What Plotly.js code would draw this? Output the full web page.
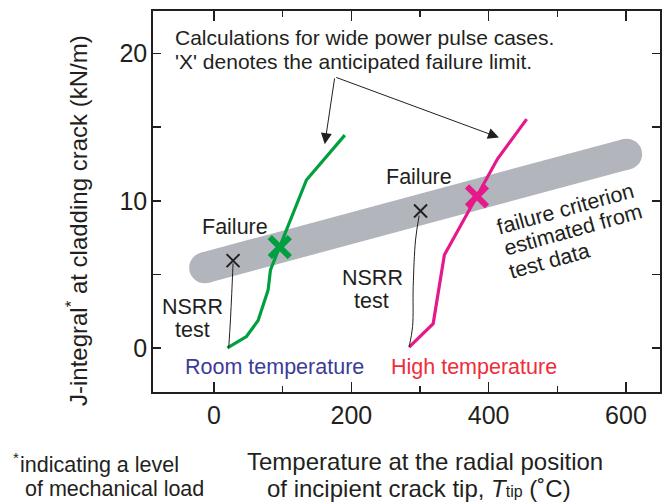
<!DOCTYPE html>
<html><head><meta charset="utf-8">
<script src="https://cdn.plot.ly/plotly-3.0.1.min.js"></script>
<style>html,body{margin:0;padding:0;background:#fff}#chart{width:665px;height:502px}</style>
</head><body><div id="chart"></div>
<script>
// failure criterion band (estimated from test data)
const bandX = [-13.6, 601];
const bandY = [5.45, 13.17];
// calculations: room temperature
const roomX = [19.5, 47.2, 64.2, 78.8, 82.2, 134.6, 190.5];
const roomY = [0, 0.77, 1.86, 3.94, 5.30, 11.41, 14.46];
// calculations: high temperature
const highX = [284.2, 319.2, 335.5, 413, 455.4];
const highY = [0.05, 1.65, 6.31, 12.85, 15.55];
// NSRR test paths
const nsrrRoomX = [21.4, 23.9, 25.8, 27.7];
const nsrrRoomY = [0, 1.9, 3.7, 5.75];
const nsrrHighX = [284.2, 289.2, 290.1, 293.5, 298.8];
const nsrrHighY = [0.05, 1.45, 4.16, 7.33, 9.0];
// failure points
const testFailX = [27.7, 300.8];
const testFailY = [5.93, 9.3];
const calcFailX = [95.8, 383];
const calcFailY = [6.85, 10.3];
// ticks
const xTickVals = [0, 200, 400, 600];
const xTickText = ['0', '200', '400', '600'];
const yTickVals = [0, 5, 10, 15, 20];
const yTickText = ['0', '', '10', '', '20'];

const INK = '#231f20';
const GREEN = '#00a040';
const PINK = '#e6198b';
const GRAY = '#b2b6bc';
const FONT = 'Liberation Sans, Arial, Helvetica, sans-serif';

const traces = [
  {x: bandX, y: bandY, mode: 'lines+markers', line: {color: GRAY, width: 31},
   marker: {color: GRAY, size: 31, symbol: 'circle', line: {width: 0}}, hoverinfo: 'skip'},
  {x: roomX, y: roomY, mode: 'lines', line: {color: GREEN, width: 3.2}},
  {x: highX, y: highY, mode: 'lines', line: {color: PINK, width: 3.2}},
  {x: nsrrRoomX, y: nsrrRoomY, mode: 'lines', line: {color: INK, width: 1, shape: 'spline'}},
  {x: nsrrHighX, y: nsrrHighY, mode: 'lines', line: {color: INK, width: 1, shape: 'spline'}},
  {x: testFailX, y: testFailY, mode: 'markers',
   marker: {symbol: 'x-thin-open', size: 13, color: INK, line: {color: INK, width: 2}}},
  {x: calcFailX, y: calcFailY, mode: 'markers',
   marker: {symbol: 'x-thin-open', size: 20, color: [GREEN, PINK], line: {color: [GREEN, PINK], width: 6}}}
];

function txt(text, x, y, opts) {
  return Object.assign({text: text, x: x, y: y, xref: 'x', yref: 'y', showarrow: false,
    font: {family: FONT, size: 21.5, color: INK}, xanchor: 'center', yanchor: 'middle',
    borderpad: 0, borderwidth: 0}, opts || {});
}
function ptxt(text, x, y, opts) {
  return txt(text, x, y, Object.assign({xref: 'paper', yref: 'paper'}, opts || {}));
}

const BIG = {family: FONT, size: 24, color: INK};
const CALC = {family: FONT, size: 21, color: INK};
const FOOT = {family: FONT, size: 21.5, color: INK};
const annotations = [
  txt('Calculations for wide power pulse cases.', -57.5, 21.10, {xanchor: 'left', font: CALC}),
  txt("'X' denotes the anticipated failure limit.", -57.5, 19.50, {xanchor: 'left', font: CALC}),
  txt('Failure', 30.2, 8.23),
  txt('Failure', 299.1, 11.63),
  txt('NSRR', -31.8, 2.80),
  txt('test', -31.0, 1.22),
  txt('NSRR', 230.1, 4.77),
  txt('test', 229.4, 3.19),
  txt('Room temperature', 88.5, -1.27, {font: {family: FONT, size: 21.5, color: '#3b3c98'}}),
  txt('High temperature', 378.8, -1.27, {font: {family: FONT, size: 21.5, color: '#ee2d3c'}}),
  txt('failure criterion', 512.6, 9.42, {textangle: -15.5}),
  txt('estimated from', 523.3, 8.01, {textangle: -15.5}),
  txt('test data', 489.3, 5.93, {textangle: -15.5}),
  // axis titles
  ptxt('J-integral<sup>*</sup> at cladding crack (kN/m)', -0.1499, 0.4488, {textangle: -90, font: BIG}),
  ptxt('Temperature at the radial position', 0.5365, -0.1824, {font: BIG}),
  ptxt('of incipient crack tip, <i>T</i><span style="font-size:16px">tip</span> (\u02daC)', 0.5247, -0.2533, {font: BIG}),
  // footnote
  ptxt('*', -0.2712, -0.1732, {font: {family: FONT, size: 15, color: INK}}),
  ptxt('indicating a level', -0.2623, -0.1903, {xanchor: 'left', font: FOOT}),
  ptxt('of mechanical load', -0.2525, -0.2546, {xanchor: 'left', font: FOOT}),
  // arrows
  {x: 161.3, y: 13.85, ax: 175.9, ay: 18.42, xref: 'x', yref: 'y', axref: 'x', ayref: 'y',
   text: '', showarrow: true, arrowhead: 2, arrowsize: 2.2, arrowwidth: 1, arrowcolor: INK, standoff: 0},
  {x: 415, y: 14.3, ax: 175.9, ay: 18.42, xref: 'x', yref: 'y', axref: 'x', ayref: 'y',
   text: '', showarrow: true, arrowhead: 2, arrowsize: 2.2, arrowwidth: 1, arrowcolor: INK, standoff: 0}
];

const layout = {
  width: 665, height: 502,
  margin: {l: 153, r: 5, t: 11, b: 110, pad: 0},
  paper_bgcolor: '#fff', plot_bgcolor: '#fff',
  showlegend: false,
  font: {family: FONT, color: INK},
  xaxis: {range: [-88.9, 649.6], tickvals: xTickVals, ticktext: xTickText,
    ticks: 'inside', ticklen: 10, tickwidth: 1.5, tickcolor: INK,
    minor: {dtick: 100, tick0: 0, ticks: 'inside', ticklen: 6, tickwidth: 1.5, tickcolor: INK},
    showline: true, linecolor: INK, linewidth: 1.8, mirror: 'ticks',
    showgrid: false, zeroline: false, tickfont: {family: FONT, size: 25, color: INK},
    ticklabelstandoff: 0},
  yaxis: {range: [-3.0, 22.9], tickvals: yTickVals, ticktext: yTickText,
    ticks: 'inside', ticklen: 8, tickwidth: 1.5, tickcolor: INK,
    showline: true, linecolor: INK, linewidth: 1.8, mirror: 'ticks',
    showgrid: false, zeroline: false, tickfont: {family: FONT, size: 25, color: INK},
    ticklabelstandoff: -1},
  annotations: annotations
};

Plotly.newPlot('chart', traces, layout, {displayModeBar: false, staticPlot: true});
</script>
</body></html>
